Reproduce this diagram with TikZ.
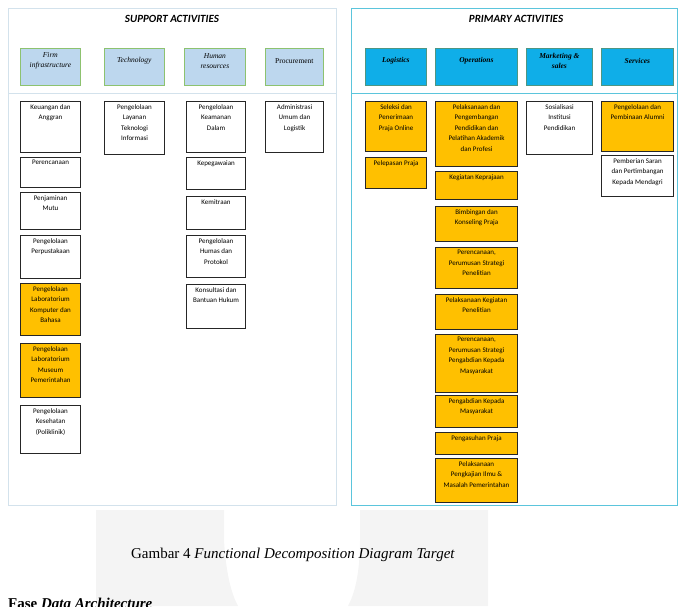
\documentclass[tikz,border=0pt]{standalone}
\usepackage{fontspec}
\setmainfont{Liberation Serif}
\newfontfamily\boxfont{Carlito}
\usepackage{xcolor}
\usetikzlibrary{positioning}

\definecolor{fdorange}{HTML}{FFC000}
\definecolor{suphead}{HTML}{BDD7EE}
\definecolor{suprim}{HTML}{8DC26F}
\definecolor{primhead}{HTML}{0FAEE8}
\definecolor{primrim}{HTML}{4E9683}
\definecolor{suppanel}{HTML}{D3E2EC}
\definecolor{primpanel}{HTML}{5BC5DC}
\definecolor{wmark}{HTML}{F4F4F4}

\tikzset{
	actbox/.style={draw=black!85, line width=1.1pt, anchor=north west, inner sep=0pt, minimum width=60},
	wbox/.style={actbox, fill=white},
	obox/.style={actbox, fill=fdorange},
	toptext/.style={label={[boxlabel]north:{#1}}},
	boxlabel/.style={anchor=north, align=center, inner sep=1pt, yshift=-2pt, font=\boxfont\fontsize{7}{10.5}\selectfont},
	headbox/.style={anchor=north west, inner sep=0pt, minimum height=37, line width=0.8pt},
	suphbox/.style={headbox, draw=suprim, fill=suphead},
	primhbox/.style={headbox, draw=primrim, fill=primhead},
	headtext/.style={label={[headlabel]north:{#1}}},
	headlabel/.style={anchor=center, align=center, inner sep=0pt, yshift=-13pt, font=\fontsize{7.5}{9.5}\selectfont\itshape},
	primtext/.style={label={[headlabel, font=\fontsize{7.5}{9.5}\selectfont\bfseries\itshape]north:{#1}}},
	paneltitle/.style={font=\boxfont\fontsize{11}{13}\selectfont\bfseries\itshape}
}

\begin{document}
\begin{tikzpicture}[x=1pt,y=-1pt]
			
			\clip (0,0) rectangle (678,606);
			\useasboundingbox (0,0) rectangle (678,606);
			
			% faint logo behind the caption
			\fill[wmark] (96,510) -- (224,510) -- (224,540) .. controls (226,575) and (232,595) .. (238,606) -- (96,606) -- cycle;
			\fill[wmark] (360,510) -- (488,510) -- (488,606) -- (348,606) .. controls (354,595) and (360,575) .. (360,540) -- cycle;
			
			% support activities
			\draw[suppanel, line width=1pt] (8,8) rectangle (336,505);
			\draw[suppanel, line width=1pt] (8,93) -- (336,93);
			\node[paneltitle] (suptitle) at (172,19) {SUPPORT ACTIVITIES};
			
			\node[suphbox, minimum width=60, headtext={Firm\\infrastructure}] (firm) at (20,48) {};
			\node[suphbox, minimum width=60, headtext={Technology}] (tech) at (104,48) {};
			\node[suphbox, minimum width=61, headtext={Human\\resources}] (human) at (184,48) {};
			\node[suphbox, minimum width=58, headtext={\upshape Procurement}] (proc) at (265,48) {};
			
			\node[wbox, minimum height=51, toptext={Keuangan dan\\Anggran}] (keu) at (20,101) {};
			\node[wbox, minimum height=30, toptext={Perencanaan}] (renc) at (20,157) {};
			\node[wbox, minimum height=37, toptext={Penjaminan\\Mutu}] (mutu) at (20,192) {};
			\node[wbox, minimum height=43, toptext={Pengelolaan\\Perpustakaan}] (pustaka) at (20,235) {};
			\node[obox, minimum height=52, toptext={Pengelolaan\\Laboratorium\\Komputer dan\\Bahasa}] (labkom) at (20,283) {};
			\node[obox, minimum height=54, toptext={Pengelolaan\\Laboratorium\\Museum\\Pemerintahan}] (museum) at (20,343) {};
			\node[wbox, minimum height=48, toptext={Pengelolaan\\Kesehatan\\(Poliklinik)}] (klinik) at (20,405) {};
			
			\node[wbox, minimum height=53, toptext={Pengelolaan\\Layanan\\Teknologi\\Informasi}] (ti) at (104,101) {};
			
			\node[wbox, minimum width=59, minimum height=51, toptext={Pengelolaan\\Keamanan\\Dalam}] (aman) at (186,101) {};
			\node[wbox, minimum width=59, minimum height=32, toptext={Kepegawaian}] (pegawai) at (186,157) {};
			\node[wbox, minimum width=59, minimum height=33, toptext={Kemitraan}] (mitra) at (186,196) {};
			\node[wbox, minimum width=59, minimum height=42, toptext={Pengelolaan\\Humas dan\\Protokol}] (humas) at (186,235) {};
			\node[wbox, minimum width=59, minimum height=44, toptext={Konsultasi dan\\Bantuan Hukum}] (hukum) at (186,284) {};
			
			\node[wbox, minimum width=58, minimum height=51, toptext={Administrasi\\Umum dan\\Logistik}] (adm) at (265,101) {};
			
			% primary activities
			\draw[primpanel, line width=1pt] (351,8) rectangle (677,505);
			\draw[primpanel, line width=1pt] (351,93) -- (677,93);
			\node[paneltitle] (primtitle) at (516,19) {PRIMARY ACTIVITIES};
			
			\node[primhbox, minimum width=61, primtext={Logistics}] (logi) at (365,48) {};
			\node[primhbox, minimum width=82, primtext={Operations}] (ops) at (435,48) {};
			\node[primhbox, minimum width=66, primtext={Marketing \&\\sales}] (mkt) at (526,48) {};
			\node[primhbox, minimum width=72, primtext={Services}] (serv) at (601,48) {};
			
			\node[obox, minimum width=61, minimum height=50, toptext={Seleksi dan\\Penerimaan\\Praja Online}] (seleksi) at (365,101) {};
			\node[obox, minimum width=61, minimum height=31, toptext={Pelepasan Praja}] (lepas) at (365,157) {};
			
			\node[obox, minimum width=82, minimum height=65, toptext={Pelaksanaan dan\\Pengembangan\\Pendidikan dan\\Pelatihan Akademik\\dan Profesi}] (diklat) at (435,101) {};
			\node[obox, minimum width=82, minimum height=28, toptext={Kegiatan Keprajaan}] (keprajaan) at (435,171) {};
			\node[obox, minimum width=82, minimum height=35, toptext={Bimbingan dan\\Konseling Praja}] (konseling) at (435,206) {};
			\node[obox, minimum width=82, minimum height=41, toptext={Perencanaan,\\Perumusan Strategi\\Penelitian}] (litrenc) at (435,247) {};
			\node[obox, minimum width=82, minimum height=35, toptext={Pelaksanaan Kegiatan\\Penelitian}] (litlak) at (435,294) {};
			\node[obox, minimum width=82, minimum height=58, toptext={Perencanaan,\\Perumusan Strategi\\Pengabdian Kepada\\Masyarakat}] (abdirenc) at (435,334) {};
			\node[obox, minimum width=82, minimum height=32, toptext={Pengabdian Kepada\\Masyarakat}] (abdi) at (435,395) {};
			\node[obox, minimum width=82, minimum height=22, toptext={Pengasuhan Praja}] (asuh) at (435,432) {};
			\node[obox, minimum width=82, minimum height=44, toptext={Pelaksanaan\\Pengkajian Ilmu \&\\Masalah Pemerintahan}] (kaji) at (435,458) {};
			
			\node[wbox, minimum width=66, minimum height=53, toptext={Sosialisasi\\Institusi\\Pendidikan}] (sosial) at (526,101) {};
			
			\node[obox, minimum width=72, minimum height=50, toptext={Pengelolaan dan\\Pembinaan Alumni}] (alumni) at (601,101) {};
			\node[wbox, minimum width=72, minimum height=41, toptext={Pemberian Saran\\dan Pertimbangan\\Kepada Mendagri}] (saran) at (601,155) {};
			
			% caption and next heading
			\node[font=\fontsize{15}{18}\selectfont] (caption) at (293,555) {Gambar 4 \textit{Functional Decomposition Diagram Target}};
			\node[anchor=base west, inner sep=0pt, font=\fontsize{15}{18}\selectfont\bfseries] (fase) at (8,608) {Fase \textit{Data Architecture}};
			
		\end{tikzpicture}
\end{document}
